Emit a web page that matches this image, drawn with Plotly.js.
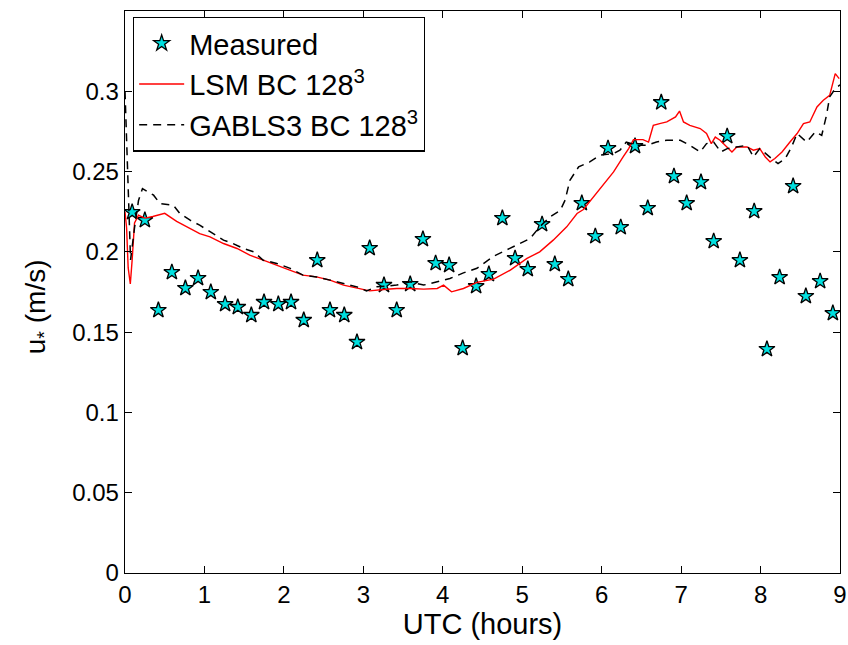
<!DOCTYPE html>
<html>
<head>
<meta charset="utf-8">
<script src="https://cdn.plot.ly/plotly-3.0.1.min.js"></script>
<style>html,body{margin:0;padding:0;background:#fff;}#chart{width:848px;height:645px;}</style>
</head>
<body>
<div id="chart"></div>
<script>
// Measured u* (stars)
const measuredX = [0.09,0.25,0.42,0.59,0.76,0.92,1.08,1.26,1.42,1.59,1.75,1.93,2.09,2.25,2.42,2.58,2.76,2.92,3.08,3.26,3.42,3.59,3.75,3.91,4.08,4.25,4.42,4.58,4.75,4.91,5.07,5.25,5.41,5.58,5.75,5.92,6.08,6.24,6.42,6.58,6.75,6.91,7.07,7.25,7.41,7.58,7.74,7.92,8.08,8.24,8.41,8.57,8.75,8.91];
const measuredY = [0.2247,0.2197,0.1637,0.1873,0.1774,0.1836,0.1749,0.1674,0.1656,0.1606,0.1687,0.1674,0.1687,0.1575,0.1948,0.1637,0.1606,0.1438,0.2023,0.1793,0.1637,0.1799,0.2079,0.1929,0.1917,0.1400,0.1786,0.1861,0.2210,0.1960,0.1892,0.2172,0.1923,0.1830,0.2303,0.2097,0.2645,0.2153,0.2658,0.2272,0.2931,0.2471,0.2303,0.2434,0.2066,0.2720,0.1948,0.2253,0.1394,0.1842,0.2409,0.1724,0.1817,0.1618];

// LSM BC 128^3 (red solid)
const lsmX = [0.00,0.02,0.04,0.067,0.09,0.12,0.17,0.25,0.35,0.50,0.65,0.78,0.94,1.07,1.24,1.41,1.57,1.74,1.91,2.08,2.24,2.41,2.58,2.75,2.92,3.08,3.25,3.42,3.59,3.76,3.93,4.01,4.11,4.26,4.43,4.64,4.85,5.06,5.22,5.39,5.56,5.69,5.77,5.90,6.02,6.15,6.27,6.34,6.40,6.52,6.59,6.65,6.73,6.82,6.93,6.98,7.03,7.11,7.24,7.32,7.38,7.43,7.49,7.55,7.64,7.70,7.83,7.91,7.99,8.06,8.12,8.18,8.27,8.37,8.46,8.54,8.62,8.71,8.79,8.87,8.91,8.94,8.99];
const lsmY = [0.225,0.215,0.190,0.180,0.195,0.218,0.2228,0.221,0.222,0.224,0.219,0.2156,0.2114,0.2093,0.2052,0.2021,0.198,0.1948,0.1917,0.1886,0.1855,0.1844,0.1824,0.1793,0.1772,0.1757,0.1766,0.1772,0.1772,0.1768,0.1772,0.1793,0.1751,0.1772,0.181,0.183,0.1886,0.1959,0.200,0.2073,0.2156,0.2239,0.2264,0.2343,0.2415,0.2498,0.2591,0.2643,0.2699,0.2699,0.2684,0.2788,0.2799,0.2809,0.284,0.2877,0.2809,0.2788,0.2768,0.2737,0.2674,0.2715,0.2695,0.2664,0.2622,0.2653,0.2653,0.2633,0.2643,0.2591,0.256,0.2581,0.2622,0.2684,0.2737,0.2799,0.2809,0.2902,0.2944,0.2975,0.3058,0.311,0.3079];

// GABLS3 BC 128^3 (black dashed)
const gablsX = [0.00,0.03,0.055,0.07,0.12,0.17,0.22,0.36,0.44,0.61,0.69,0.82,0.94,1.07,1.24,1.36,1.49,1.62,1.74,1.91,2.08,2.24,2.41,2.58,2.75,2.92,3.04,3.17,3.42,3.59,3.76,3.93,4.09,4.26,4.43,4.64,4.80,4.97,5.10,5.22,5.35,5.48,5.54,5.60,5.71,5.85,5.98,6.15,6.23,6.31,6.44,6.57,6.69,6.82,6.99,7.11,7.24,7.32,7.41,7.50,7.58,7.70,7.83,7.91,7.99,8.14,8.22,8.31,8.39,8.46,8.58,8.69,8.77,8.83,8.87,8.94,9.00];
const gablsY = [0.300,0.250,0.205,0.195,0.215,0.232,0.2394,0.2353,0.2301,0.229,0.2239,0.2197,0.2166,0.2124,0.2073,0.2052,0.2021,0.200,0.1948,0.1928,0.1897,0.1855,0.1844,0.1824,0.1803,0.1782,0.1757,0.1782,0.1793,0.1813,0.1793,0.1813,0.1834,0.1869,0.1898,0.1973,0.201,0.2052,0.2083,0.2156,0.2218,0.2259,0.2322,0.2446,0.2529,0.256,0.2602,0.2612,0.2633,0.2684,0.2664,0.2664,0.2684,0.2695,0.2695,0.2664,0.2622,0.2674,0.2684,0.2622,0.2643,0.2653,0.2664,0.2591,0.2643,0.2581,0.255,0.2581,0.2653,0.2737,0.2684,0.2747,0.2726,0.285,0.2965,0.3017,0.304];

const xTicks = [0,1,2,3,4,5,6,7,8,9];
const yTicks = [0,0.05,0.1,0.15,0.2,0.25,0.3];
const yTickText = ["0","0.05","0.1","0.15","0.2","0.25","0.3"];

const narrow = '"Liberation Sans Narrow", "Arial Narrow", "Liberation Sans", Arial, sans-serif';
const regular = '"Liberation Sans", Arial, sans-serif';

const traces = [
  {x: measuredX, y: measuredY, mode: 'markers', type: 'scatter', name: 'Measured',
   marker: {symbol: 'star', size: 12, color: '#00e0e0', line: {color: '#000', width: 1.3}}},
  {x: lsmX, y: lsmY, mode: 'lines', type: 'scatter', name: 'LSM BC 128<sup>3</sup>',
   line: {color: '#ff0000', width: 1.4}},
  {x: gablsX, y: gablsY, mode: 'lines', type: 'scatter', name: 'GABLS3 BC 128<sup>3</sup>',
   line: {color: '#000', width: 1.5, dash: '8px,6px'}}
];

const layout = {
  width: 848, height: 645,
  margin: {l: 125, r: 8, t: 11, b: 72},
  paper_bgcolor: '#fff', plot_bgcolor: '#fff',
  showlegend: true,
  legend: {x: 0.011, y: 0.99, xanchor: 'left', yanchor: 'top',
    bordercolor: '#000', borderwidth: 1.3, bgcolor: '#fff',
    font: {family: regular, size: 29, color: '#000'}, itemwidth: 45, tracegroupgap: 0},
  xaxis: {range: [0, 9], tickvals: xTicks, ticktext: xTicks.map(String),
    ticks: 'inside', ticklen: 7, tickcolor: '#000', showline: true, linecolor: '#000', linewidth: 1.3,
    mirror: 'ticks', showgrid: false, zeroline: false,
    tickfont: {family: narrow, size: 24, color: '#000'},
    title: {text: 'UTC (hours)', font: {family: narrow, size: 29, color: '#000'}, standoff: 2}},
  yaxis: {range: [0, 0.35], tickvals: yTicks, ticktext: yTickText,
    ticks: 'inside', ticklen: 7, tickcolor: '#000', showline: true, linecolor: '#000', linewidth: 1.3,
    mirror: 'ticks', showgrid: false, zeroline: false,
    tickfont: {family: narrow, size: 24, color: '#000'}},
  annotations: [
    {text: 'u<sub>*</sub> (m/s)', xref: 'paper', yref: 'paper', x: -0.123, y: 0.473,
     xanchor: 'center', yanchor: 'middle', textangle: -90, showarrow: false,
     font: {family: narrow, size: 28, color: '#000'}}
  ]
};

Plotly.newPlot('chart', traces, layout, {displayModeBar: false, staticPlot: true});
</script>
</body>
</html>
